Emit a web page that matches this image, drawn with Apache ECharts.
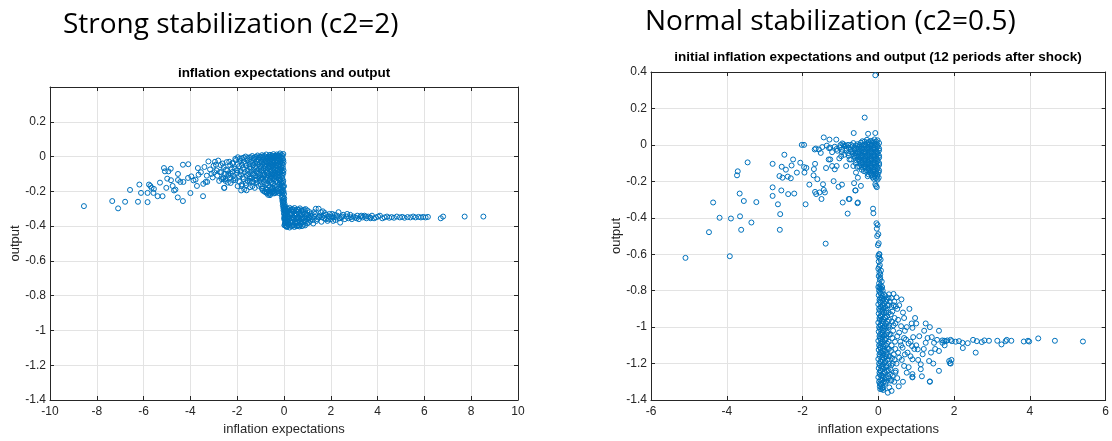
<!DOCTYPE html>
<html>
<head>
<meta charset="utf-8">
<script src="https://cdn.jsdelivr.net/npm/echarts@6/dist/echarts.min.js"></script>
<style>
html,body{margin:0;padding:0;background:#fff;}
#chart{width:1112px;height:441px;}
</style>
</head>
<body>
<div id="chart"></div>
<script>
// ---------- Titles / labels ----------
const leftHeading = 'Strong stabilization (c2=2)';
const rightHeading = 'Normal stabilization (c2=0.5)';
const leftTitle = 'inflation expectations and output';
const rightTitle = 'initial inflation expectations and output (12 periods after shock)';
const xName = 'inflation expectations';
const yName = 'output';

// ---------- Strong stabilization (c2=2) data: [inflation expectations, output] ----------
const strongSparse = [
[-8.55,-0.285],[-7.34,-0.256],[-7.09,-0.298],[-6.79,-0.26],[-6.58,-0.192],[-6.24,-0.26],[-6.18,-0.161],[-6.11,-0.209],
[-5.83,-0.262],[-5.83,-0.209],[-5.77,-0.161],[-5.71,-0.169],[-5.66,-0.18],[-5.58,-0.209],[-5.56,-0.186],[-5.40,-0.228],
[-5.30,-0.15],[-5.19,-0.228],[-5.13,-0.066],[-5.09,-0.085],[-5.03,-0.18],[-4.99,-0.127],[-4.94,-0.085],[-4.84,-0.07],
[-4.83,-0.136],[-4.76,-0.169],[-4.70,-0.195],[-4.64,-0.19],[-4.54,-0.235],[-4.53,-0.1],[-4.53,-0.135],[-4.43,-0.146],
[-4.32,-0.256],[-4.32,-0.047],[-4.09,-0.044],[-4.30,-0.146],[-4.10,-0.123],[-4.00,-0.21],[-3.96,-0.114],[-3.87,-0.137],
[-3.78,-0.133],[-3.72,-0.169],[-3.68,-0.066],[-3.65,-0.104],[-3.46,-0.228],[-3.45,-0.157],[-3.35,-0.146],[-3.28,-0.146],
[-3.23,-0.028],[-3.16,-0.074],[-3.01,-0.053],[-2.91,-0.047],[-3.55,-0.09],[-3.4,-0.06],[-3.3,-0.11],[-3.1,-0.1],
[-2.81,-0.023],[-2.74,-0.089],[-2.59,-0.127],[-2.56,-0.18],[-2.45,-0.032],[-2.38,-0.108],[-2.24,-0.07],[-2.17,-0.137],
[-2.08,-0.013],[-1.99,-0.08],[-1.81,-0.169],[-1.7,-0.188],[-1.6,-0.194],[-1.45,-0.127],[-1.37,-0.146],[-1.03,-0.127],
[-0.94,-0.184],[-0.74,-0.203],[-0.6,-0.222],[-0.47,-0.18],[-0.43,-0.212],[-2.95,-0.03],[-2.88,-0.08],[-2.7,-0.05],
[-2.66,-0.13],[-2.62,-0.04],[-2.52,-0.1],[-2.4,-0.15],[-2.3,-0.12],[-2.2,-0.04],
[-3.05,-0.12],[-2.98,-0.09],[-2.85,-0.11],[-2.77,-0.14],[-2.68,-0.09],[-2.58,-0.06],[-2.5,-0.13],[-2.42,-0.08],[-2.34,-0.03],[-2.27,-0.1]
];
const strongCloud = [
[-0.03,0.015],[-0.1,0.01],[-0.17,0.018],[-0.24,0.008],[-0.31,0.012],[-0.38,0.004],[-0.45,0.014],[-0.52,0.006],[-0.6,0.01],[-0.68,0.0],[-0.76,0.012],[-0.85,0.004],[-0.94,0.008],[-1.03,-0.002],[-1.13,0.006],[-1.24,-0.004],[-1.36,0.003],[-1.5,-0.006],[-1.64,0.0],[-1.8,-0.01],[-1.97,-0.004],
[-0.06,-0.01],[-0.14,-0.006],[-0.21,-0.014],[-0.28,-0.008],[-0.35,-0.018],[-0.42,-0.01],[-0.49,-0.02],[-0.56,-0.012],[-0.64,-0.02],[-0.72,-0.014],[-0.8,-0.024],[-0.89,-0.016],[-0.98,-0.026],[-1.08,-0.018],[-1.18,-0.028],[-1.29,-0.02],[-1.41,-0.03],[-1.56,-0.022],[-1.72,-0.032],[-1.88,-0.026],[-2.05,-0.02],[-2.2,-0.036],
[-0.02,-0.035],[-0.09,-0.04],[-0.16,-0.032],[-0.23,-0.044],[-0.3,-0.036],[-0.37,-0.048],[-0.44,-0.038],[-0.51,-0.05],[-0.58,-0.042],[-0.66,-0.054],[-0.74,-0.044],[-0.83,-0.056],[-0.92,-0.046],[-1.02,-0.058],[-1.12,-0.048],[-1.23,-0.06],[-1.35,-0.05],[-1.47,-0.062],[-1.61,-0.052],[-1.76,-0.066],[-1.92,-0.056],[-2.1,-0.07],[-2.3,-0.05],[-2.48,-0.075],
[-0.05,-0.065],[-0.12,-0.072],[-0.19,-0.062],[-0.26,-0.076],[-0.33,-0.066],[-0.4,-0.08],[-0.47,-0.07],[-0.54,-0.084],[-0.62,-0.074],[-0.7,-0.088],[-0.78,-0.078],[-0.87,-0.092],[-0.96,-0.08],[-1.06,-0.094],[-1.17,-0.084],[-1.28,-0.098],[-1.4,-0.086],[-1.53,-0.1],[-1.67,-0.09],[-1.84,-0.104],[-2.0,-0.094],[-2.18,-0.11],[-2.38,-0.1],[-2.6,-0.12],
[-0.03,-0.095],[-0.1,-0.1],[-0.17,-0.092],[-0.24,-0.106],[-0.31,-0.098],[-0.39,-0.112],[-0.47,-0.104],[-0.56,-0.118],[-0.65,-0.108],[-0.75,-0.122],[-0.85,-0.112],[-0.97,-0.128],[-1.1,-0.118],[-1.24,-0.134],[-1.38,-0.122],[-1.55,-0.14],[-1.72,-0.13],[-1.9,-0.146],[-2.08,-0.136],[-2.28,-0.152],[-2.5,-0.14],
[-0.07,-0.125],[-0.15,-0.132],[-0.23,-0.124],[-0.32,-0.138],[-0.42,-0.13],[-0.52,-0.146],[-0.62,-0.138],[-0.73,-0.154],[-0.86,-0.146],[-1.0,-0.162],[-1.16,-0.15],[-1.35,-0.17],[-1.62,-0.165],[-1.83,-0.195],[-2.55,-0.18],
[-0.11,-0.155],[-0.2,-0.162],[-0.3,-0.172],[-0.4,-0.168],[-0.5,-0.182],[-0.6,-0.176],[-0.71,-0.19],[-0.83,-0.2],[-0.93,-0.185],
[-0.16,-0.19],[-0.27,-0.2],[-0.38,-0.21],[-0.48,-0.205],[-0.58,-0.215],[-0.68,-0.22],[-0.8,-0.205]
];
const strongCloudFill = [
[-0.065,0.003],[-0.135,-0.001],[-0.205,0.004],[-0.275,0.0],[-0.345,0.003],[-0.415,-0.002],[-0.485,0.002],[-0.56,-0.003],[-0.64,0.001],[-0.72,-0.004],[-0.8,0.0],[-0.9,-0.005],[-0.99,-0.001],[-1.08,-0.006],[-1.19,-0.002],[-1.3,-0.008],[-1.43,-0.004],[-1.57,-0.01],[-1.72,-0.006],[-1.88,-0.012],
[-0.03,-0.022],[-0.1,-0.026],[-0.17,-0.02],[-0.245,-0.025],[-0.315,-0.021],[-0.385,-0.027],[-0.455,-0.023],[-0.53,-0.03],[-0.6,-0.026],[-0.68,-0.032],[-0.76,-0.028],[-0.85,-0.034],[-0.94,-0.03],[-1.03,-0.036],[-1.13,-0.032],[-1.24,-0.04],[-1.35,-0.036],[-1.48,-0.044],[-1.64,-0.04],[-1.8,-0.048],[-1.97,-0.042],
[-0.055,-0.05],[-0.125,-0.054],[-0.195,-0.048],[-0.265,-0.055],[-0.335,-0.051],[-0.405,-0.058],[-0.475,-0.054],[-0.545,-0.062],[-0.62,-0.058],[-0.7,-0.066],[-0.78,-0.06],[-0.87,-0.068],[-0.96,-0.063],[-1.07,-0.072],[-1.18,-0.066],[-1.3,-0.076],[-1.42,-0.07],[-1.55,-0.08],[-1.7,-0.074],[-1.85,-0.084],[-2.02,-0.078],[-2.2,-0.088],
[-0.02,-0.08],[-0.09,-0.085],[-0.16,-0.079],[-0.23,-0.088],[-0.3,-0.082],[-0.37,-0.092],[-0.44,-0.086],[-0.51,-0.096],[-0.58,-0.09],[-0.66,-0.1],[-0.74,-0.094],[-0.83,-0.104],[-0.92,-0.098],[-1.01,-0.108],[-1.12,-0.1],[-1.23,-0.112],[-1.35,-0.104],[-1.47,-0.116],[-1.6,-0.108],[-1.76,-0.12],[-1.92,-0.112],[-2.1,-0.125],
[-0.065,-0.11],[-0.135,-0.114],[-0.205,-0.108],[-0.28,-0.118],[-0.35,-0.112],[-0.43,-0.122],[-0.51,-0.116],[-0.6,-0.128],[-0.7,-0.122],[-0.8,-0.134],[-0.91,-0.128],[-1.03,-0.14],[-1.17,-0.134],[-1.31,-0.146],[-1.46,-0.14],[-1.63,-0.152],[-1.8,-0.16],[-1.98,-0.17],
[-0.03,-0.14],[-0.11,-0.145],[-0.19,-0.14],[-0.27,-0.15],[-0.37,-0.146],[-0.47,-0.158],[-0.57,-0.152],[-0.68,-0.165],[-0.8,-0.16],[-0.93,-0.172],[-1.08,-0.168],[-1.25,-0.18],[-1.45,-0.176],
[-0.06,-0.17],[-0.15,-0.176],[-0.25,-0.185],[-0.35,-0.19],[-0.45,-0.195],[-0.55,-0.19],[-0.65,-0.2],[-0.77,-0.19],[-0.9,-0.196],
[-0.05,-0.2],[-0.12,-0.205],[-0.22,-0.21],[-0.33,-0.205],[-0.43,-0.2],[-0.53,-0.208],[-0.63,-0.212],[-0.74,-0.21]
];
const strongWall = [
[-0.05,-0.15],[0.0,-0.17],[-0.08,-0.19],[-0.02,-0.2],[-0.1,-0.22],[-0.04,-0.23],[0.01,-0.24],[-0.07,-0.25],[-0.02,-0.265],
[0.03,-0.275],[-0.05,-0.28],[0.0,-0.29],[0.05,-0.3],[-0.02,-0.31],[0.02,-0.325],[0.06,-0.34],[0.03,-0.355],[0.07,-0.37],
[0.04,-0.385],[0.08,-0.4],[0.12,-0.405],
[-0.09,-0.16],[-0.03,-0.175],[-0.11,-0.2],[-0.06,-0.21],[0.0,-0.215],[-0.09,-0.235],[-0.03,-0.245],[-0.06,-0.26],[0.0,-0.255],
[-0.04,-0.27],[0.02,-0.285],[-0.03,-0.295],[0.03,-0.31],[0.0,-0.33],[0.04,-0.345],[0.01,-0.36],[0.05,-0.38],[0.02,-0.395]
];
const strongLow = [
[0.05,-0.29],[0.14,-0.3],[0.24,-0.295],[0.34,-0.302],[0.45,-0.296],[0.56,-0.305],[0.68,-0.298],[0.8,-0.31],[0.92,-0.302],
[0.03,-0.315],[0.11,-0.322],[0.2,-0.312],[0.3,-0.326],[0.4,-0.316],[0.5,-0.33],[0.61,-0.318],[0.72,-0.332],[0.84,-0.32],[0.97,-0.335],
[0.07,-0.338],[0.16,-0.345],[0.26,-0.336],[0.36,-0.35],[0.46,-0.34],[0.57,-0.354],[0.68,-0.344],[0.79,-0.358],[0.9,-0.348],[1.02,-0.36],
[0.04,-0.36],[0.13,-0.368],[0.22,-0.358],[0.32,-0.372],[0.42,-0.362],[0.53,-0.376],[0.64,-0.366],[0.75,-0.38],[0.87,-0.37],[0.99,-0.384],
[0.09,-0.382],[0.18,-0.39],[0.28,-0.38],[0.38,-0.394],[0.49,-0.385],[0.6,-0.396],[0.71,-0.388],[0.83,-0.392],
[0.14,-0.402],[0.24,-0.408],[0.34,-0.4],[0.44,-0.405],[0.55,-0.4],[0.66,-0.402]
];
const strongLowFill = [
[0.0,-0.305],[0.09,-0.307],[0.19,-0.303],[0.29,-0.308],[0.39,-0.304],[0.5,-0.309],[0.62,-0.305],[0.74,-0.31],[0.86,-0.306],
[0.06,-0.328],[0.15,-0.332],[0.25,-0.326],[0.35,-0.33],[0.45,-0.327],[0.55,-0.333],[0.66,-0.328],[0.78,-0.334],[0.9,-0.33],[1.04,-0.336],
[0.01,-0.35],[0.1,-0.354],[0.2,-0.348],[0.31,-0.355],[0.41,-0.35],[0.51,-0.356],[0.62,-0.351],[0.73,-0.357],[0.85,-0.352],[0.96,-0.358],[1.1,-0.353],
[0.07,-0.372],[0.17,-0.376],[0.27,-0.37],[0.37,-0.377],[0.47,-0.372],[0.58,-0.378],[0.69,-0.373],[0.81,-0.379],[0.93,-0.374],[1.06,-0.38],
[0.03,-0.395],[0.12,-0.398],[0.22,-0.394],[0.32,-0.399],[0.43,-0.395],[0.54,-0.4],[0.65,-0.396],[0.77,-0.4],[0.9,-0.396]
];
const strongTail = [
[1.0,-0.31],[1.05,-0.35],[1.12,-0.37],[1.18,-0.33],[1.25,-0.385],[1.3,-0.345],[1.36,-0.30],[1.42,-0.36],[1.48,-0.30],[1.55,-0.34],
[1.6,-0.375],[1.66,-0.315],[1.72,-0.355],[1.8,-0.335],[1.86,-0.37],[1.92,-0.345],[2.0,-0.36],[2.06,-0.33],[2.12,-0.35],[2.2,-0.365],
[2.27,-0.34],[2.33,-0.32],[2.4,-0.38],[2.46,-0.35],[2.53,-0.335],[2.6,-0.36],[2.68,-0.345],[2.75,-0.355],[2.83,-0.335],[2.9,-0.36],
[2.97,-0.345],[3.05,-0.35],[3.13,-0.34],[3.2,-0.36],[3.28,-0.345],[3.36,-0.35],[3.44,-0.34],[3.52,-0.355],[3.6,-0.345],[3.68,-0.35],
[3.76,-0.34],[3.85,-0.355],[3.93,-0.35],[4.02,-0.345],[4.1,-0.34],[4.2,-0.355],[4.3,-0.35],[4.4,-0.345],[4.5,-0.352],[4.6,-0.348],
[4.7,-0.352],[4.82,-0.345],[4.95,-0.35],[5.05,-0.347],[5.15,-0.352],[5.28,-0.348],[5.4,-0.35],[5.52,-0.345],[5.62,-0.35],[5.75,-0.347],
[5.85,-0.35],[5.95,-0.347],[6.05,-0.35],[6.15,-0.347],[6.7,-0.355],[6.8,-0.345],[7.72,-0.345],[8.52,-0.345],
[1.1,-0.32],[1.2,-0.35],[1.28,-0.32],[1.38,-0.37],[1.5,-0.345],[1.58,-0.32],[1.7,-0.34],[1.78,-0.36],[1.95,-0.33],[2.1,-0.37],
[2.25,-0.35],[2.5,-0.345],[2.7,-0.33],[2.85,-0.35],[3.1,-0.355],[3.3,-0.34],[3.5,-0.345],[3.7,-0.355],
[1.15,-0.34],[1.22,-0.365],[1.33,-0.33],[1.45,-0.35],[1.63,-0.35],[1.75,-0.325],[1.9,-0.36],[2.03,-0.345],[2.17,-0.335],[2.37,-0.355]
];

// ---------- Normal stabilization (c2=0.5) data ----------
const normalSparse = [
[-5.09,-0.62],[-4.47,-0.479],[-4.36,-0.316],[-4.19,-0.40],[-3.92,-0.611],[-3.89,-0.404],[-3.73,-0.167],[-3.71,-0.145],
[-3.66,-0.267],[-3.65,-0.392],[-3.62,-0.466],[-3.55,-0.308],[-3.45,-0.096],[-3.35,-0.426],[-3.22,-0.314],[-2.79,-0.104],
[-2.79,-0.233],[-2.79,-0.28],[-2.65,-0.326],[-2.61,-0.171],[-2.60,-0.466],[-2.59,-0.38],[-2.56,-0.25],[-2.55,-0.12],
[-2.53,-0.18],[-2.48,-0.054],[-2.44,-0.136],[-2.39,-0.174],[-2.38,-0.27],[-2.31,-0.183],[-2.29,-0.113],[-2.25,-0.08],
[-2.22,-0.267],[-2.15,-0.152],[-2.06,-0.098],[-2.02,0.0],[-1.96,0.0],[-1.96,-0.122],[-1.95,-0.152],[-1.92,-0.326],
[-1.90,-0.126],[-1.82,-0.218],[-1.71,-0.167],[-1.70,-0.133],[-1.68,-0.025],[-1.67,-0.104],[-1.67,-0.258],[-1.64,-0.27],
[-1.61,-0.188],[-1.57,-0.025],[-1.55,-0.261],[-1.52,-0.044],[-1.50,-0.297],[-1.46,-0.216],[-1.44,-0.247],[-1.44,0.041],
[-1.41,-0.261],[-1.39,-0.542],[-1.38,-0.127],[-1.36,-0.004],[-1.31,-0.08],[-1.29,0.029],[-1.27,-0.015],[-1.27,-0.08],
[-1.22,-0.116],[-1.18,-0.199],[-1.15,-0.134],[-1.11,0.029],[-1.10,-0.116],[-1.05,-0.23],[-1.03,-0.074],[-0.98,-0.062],
[-0.96,-0.218],[-0.94,-0.316],[-0.92,0.003],[-0.85,-0.116],[-0.81,-0.377],[-0.78,-0.297],[-0.76,-0.08],[-0.66,-0.116],
[-0.65,0.065],[-0.64,-0.21],[-0.61,-0.25],[-0.59,-0.152],[-0.55,-0.32],[-0.54,-0.18],[-0.46,-0.225],[-0.36,0.15],
[-0.27,0.061],[-0.08,0.065],[-0.08,0.382],[-0.14,-0.35],[-0.13,-0.375],[-0.08,-0.216],[-0.04,-0.232],[-0.06,-0.225],
[-0.6,-0.25],[-0.54,-0.316],[-0.76,-0.297]
];
const normalCloud = [
[-0.02,0.025],[-0.1,0.03],[-0.2,0.022],[-0.3,0.028],[-0.42,0.02],
[0.02,0.01],[-0.06,0.006],[-0.14,0.012],[-0.22,0.004],[-0.3,0.01],[-0.38,0.002],[-0.46,0.012],[-0.55,0.004],[-0.66,0.01],[-0.8,0.0],[-0.95,0.008],
[-0.02,-0.01],[-0.1,-0.014],[-0.18,-0.006],[-0.26,-0.012],[-0.34,-0.008],[-0.42,-0.016],[-0.5,-0.01],[-0.58,-0.018],[-0.68,-0.008],[-0.78,-0.016],[-0.9,-0.006],[-1.02,-0.014],[-1.15,-0.01],[-1.3,-0.018],[-1.48,-0.012],[-1.65,-0.02],
[0.02,-0.03],[-0.06,-0.034],[-0.14,-0.026],[-0.22,-0.032],[-0.3,-0.028],[-0.38,-0.036],[-0.46,-0.03],[-0.54,-0.038],[-0.63,-0.028],[-0.72,-0.036],[-0.84,-0.03],[-0.96,-0.04],[-1.08,-0.032],[-1.22,-0.04],
[-0.02,-0.05],[-0.1,-0.054],[-0.18,-0.046],[-0.26,-0.052],[-0.34,-0.048],[-0.42,-0.056],[-0.5,-0.05],[-0.58,-0.058],[-0.67,-0.05],[-0.78,-0.06],[-0.9,-0.054],
[0.02,-0.07],[-0.06,-0.074],[-0.14,-0.066],[-0.22,-0.072],[-0.3,-0.068],[-0.38,-0.076],[-0.46,-0.07],[-0.54,-0.078],[-0.62,-0.07],[-0.72,-0.08],
[-0.02,-0.09],[-0.1,-0.094],[-0.18,-0.086],[-0.26,-0.092],[-0.34,-0.088],[-0.42,-0.096],[-0.5,-0.09],[-0.6,-0.1],
[0.02,-0.11],[-0.06,-0.114],[-0.14,-0.106],[-0.22,-0.112],[-0.3,-0.108],[-0.38,-0.116],[-0.46,-0.11],[-0.56,-0.12],
[-0.02,-0.13],[-0.1,-0.134],[-0.18,-0.126],[-0.26,-0.132],[-0.34,-0.128],[-0.44,-0.136],
[0.01,-0.15],[-0.06,-0.154],[-0.14,-0.146],[-0.22,-0.152],[-0.32,-0.148],
[-0.03,-0.17],[-0.1,-0.174],[-0.18,-0.166],[-0.28,-0.172],
[-0.02,-0.19],[-0.12,-0.186]
];
const normalCloudFill = [
[-0.06,0.018],[-0.15,0.02],[-0.25,0.016],[-0.36,0.018],
[-0.02,0.0],[-0.1,-0.002],[-0.18,0.002],[-0.26,-0.001],[-0.34,0.001],[-0.42,-0.002],[-0.5,0.0],[-0.6,-0.003],[-0.72,0.0],[-0.86,-0.004],[-1.0,-0.001],
[0.02,-0.02],[-0.06,-0.022],[-0.14,-0.018],[-0.22,-0.021],[-0.3,-0.019],[-0.38,-0.023],[-0.46,-0.02],[-0.54,-0.024],[-0.63,-0.02],[-0.73,-0.025],[-0.84,-0.02],[-0.96,-0.026],[-1.1,-0.022],
[-0.02,-0.04],[-0.1,-0.043],[-0.18,-0.038],[-0.26,-0.042],[-0.34,-0.039],[-0.42,-0.044],[-0.5,-0.04],[-0.59,-0.045],[-0.68,-0.04],[-0.8,-0.046],
[0.02,-0.06],[-0.06,-0.062],[-0.14,-0.058],[-0.22,-0.062],[-0.3,-0.059],[-0.38,-0.064],[-0.46,-0.06],[-0.54,-0.065],[-0.63,-0.06],
[-0.02,-0.08],[-0.1,-0.083],[-0.18,-0.078],[-0.26,-0.082],[-0.34,-0.079],[-0.42,-0.084],[-0.5,-0.08],[-0.58,-0.085],
[0.02,-0.1],[-0.06,-0.103],[-0.14,-0.098],[-0.22,-0.102],[-0.3,-0.099],[-0.38,-0.104],[-0.46,-0.1],
[-0.02,-0.12],[-0.1,-0.123],[-0.18,-0.118],[-0.26,-0.122],[-0.34,-0.119],[-0.42,-0.124],[-0.5,-0.12],
[0.02,-0.14],[-0.06,-0.143],[-0.14,-0.138],[-0.22,-0.142],[-0.3,-0.139],[-0.38,-0.144],
[-0.02,-0.16],[-0.1,-0.163],[-0.18,-0.158],[-0.26,-0.162],
[0.01,-0.18],[-0.06,-0.182],[-0.15,-0.178]
];
const normalStreak = [
[-0.05,-0.43],[-0.02,-0.44],[-0.04,-0.46],[0.0,-0.49],[-0.03,-0.5],[0.01,-0.54],[-0.01,-0.55],[0.02,-0.6],[0.0,-0.61],[0.03,-0.62],
[0.01,-0.64],[0.04,-0.66],[0.0,-0.68],[0.03,-0.7],[0.05,-0.71],[0.01,-0.72],[0.04,-0.74],[0.02,-0.76],[0.06,-0.77],[0.0,-0.78],
[0.03,-0.6],[0.06,-0.63],[0.02,-0.67],[0.07,-0.69],[0.05,-0.73],[0.09,-0.75],[0.03,-0.78],[0.1,-0.78]
];
const normalLow = [
[0.02,-0.8],[0.01,-0.825],[0.03,-0.85],[0.0,-0.875],[0.02,-0.9],[0.01,-0.925],[0.03,-0.95],[0.0,-0.975],[0.02,-1.0],[0.01,-1.025],[0.03,-1.05],[0.0,-1.075],[0.02,-1.1],[0.01,-1.125],[0.03,-1.15],[0.0,-1.175],[0.02,-1.2],[0.01,-1.225],[0.03,-1.25],[0.0,-1.275],[0.02,-1.3],[0.04,-1.325],
[0.08,-0.79],[0.07,-0.815],[0.09,-0.84],[0.06,-0.865],[0.08,-0.89],[0.1,-0.915],[0.07,-0.94],[0.09,-0.965],[0.06,-0.99],[0.08,-1.015],[0.1,-1.04],[0.07,-1.065],[0.09,-1.09],[0.06,-1.115],[0.08,-1.14],[0.1,-1.165],[0.07,-1.19],[0.09,-1.215],[0.06,-1.24],[0.08,-1.265],[0.1,-1.29],[0.07,-1.315],[0.09,-1.34],
[0.15,-0.82],[0.14,-0.845],[0.16,-0.87],[0.13,-0.895],[0.15,-0.92],[0.17,-0.945],[0.14,-0.97],[0.16,-0.995],[0.13,-1.02],[0.15,-1.045],[0.17,-1.07],[0.14,-1.095],[0.16,-1.12],[0.13,-1.145],[0.15,-1.17],[0.17,-1.195],[0.14,-1.22],[0.16,-1.245],[0.13,-1.27],[0.15,-1.3],[0.12,-1.33],
[0.22,-0.85],[0.24,-0.88],[0.21,-0.91],[0.23,-0.94],[0.25,-0.97],[0.22,-1.0],[0.24,-1.03],[0.21,-1.06],[0.23,-1.09],[0.25,-1.12],[0.22,-1.15],[0.24,-1.18],[0.21,-1.21],[0.23,-1.24],[0.26,-1.27],[0.2,-1.3],
[0.3,-0.86],[0.33,-0.93],[0.29,-0.99],[0.32,-1.04],[0.35,-1.1],[0.3,-1.16],[0.34,-1.21],[0.31,-1.26],[0.28,-0.82],[0.36,-0.97]
];
const normalLowFill = [
[0.045,-0.79],[0.04,-0.81],[0.05,-0.84],[0.04,-0.86],[0.05,-0.89],[0.04,-0.91],[0.05,-0.94],[0.04,-0.96],[0.05,-0.99],[0.04,-1.01],[0.05,-1.04],[0.04,-1.06],[0.05,-1.09],[0.04,-1.11],[0.05,-1.14],[0.04,-1.16],[0.05,-1.19],[0.04,-1.21],[0.05,-1.24],[0.04,-1.26],[0.05,-1.29],[0.04,-1.31],[0.05,-1.34],
[0.115,-0.8],[0.11,-0.83],[0.12,-0.855],[0.11,-0.88],[0.12,-0.905],[0.11,-0.93],[0.12,-0.955],[0.11,-0.98],[0.12,-1.005],[0.11,-1.03],[0.12,-1.055],[0.11,-1.08],[0.12,-1.105],[0.11,-1.13],[0.12,-1.155],[0.11,-1.18],[0.12,-1.205],[0.11,-1.23],[0.12,-1.255],[0.11,-1.28],[0.12,-1.305],[0.11,-1.335],
[0.19,-0.83],[0.2,-0.86],[0.18,-0.89],[0.2,-0.92],[0.19,-0.95],[0.2,-0.98],[0.18,-1.01],[0.2,-1.04],[0.19,-1.07],[0.2,-1.1],[0.18,-1.13],[0.2,-1.16],[0.19,-1.19],[0.2,-1.22],[0.18,-1.25],[0.2,-1.28],[0.19,-1.31],
[0.27,-0.84],[0.28,-0.88],[0.27,-0.92],[0.28,-0.96],[0.27,-1.0],[0.28,-1.04],[0.27,-1.08],[0.28,-1.12],[0.27,-1.16],[0.28,-1.2],[0.27,-1.24],[0.28,-1.28],
[0.4,-0.88],[0.43,-0.95],[0.39,-1.02],[0.44,-1.08],[0.41,-1.15],[0.38,-1.2],[0.45,-1.25],[0.42,-1.3],[0.5,-0.9],[0.52,-1.14],[0.48,-1.2],
[0.34,-0.89],[0.37,-1.06],[0.33,-1.13],[0.36,-1.17],[0.32,-1.23],[0.35,-1.29],[0.4,-0.99],[0.43,-1.18]
];
const normalFan = [
[0.40,-0.818],[0.48,-0.837],[0.61,-0.848],[0.42,-0.859],[0.46,-0.886],[0.37,-0.914],[0.68,-0.95],[0.97,-0.95],[0.88,-0.98],
[1.25,-0.98],[1.36,-1.0],[0.6,-0.995],[0.9,-1.004],[1.60,-1.02],[1.21,-1.02],[1.08,-1.05],[0.92,-1.055],[1.41,-1.055],
[0.73,-1.068],[1.25,-1.086],[1.47,-1.086],[1.69,-1.086],[1.91,-1.07],[0.89,-1.104],[0.64,-1.113],[1.04,-1.122],[0.77,-1.14],
[1.17,-1.149],[1.39,-1.14],[1.6,-1.131],[0.55,-1.168],[0.9,-1.177],[1.12,-1.204],[1.34,-1.186],[1.93,-1.18],[1.89,-1.198],
[0.68,-1.213],[0.46,-1.24],[0.9,-1.258],[1.12,-1.231],[1.36,-1.298],[0.90,-1.276],[0.54,-1.325],[0.33,-1.294],[0.38,-1.267],
[0.13,-1.345],[0.08,-1.312],[0.29,-1.331],[0.5,-1.05],[0.45,-1.12],[0.52,-0.96],[0.58,-1.08],[0.7,-1.02],[0.8,-1.09],
[0.62,-1.18],[0.75,-1.25],[1.0,-1.1],[1.5,-1.12],[1.3,-1.06],[1.75,-1.1],
[0.35,-0.84],[0.55,-0.88],[0.65,-0.92],[0.45,-0.98],[0.75,-1.0],[0.55,-1.03],[0.68,-1.06],[0.85,-1.08],[0.6,-1.1],[0.95,-1.12],
[0.7,-1.15],[0.85,-1.16],[0.5,-1.28],[0.65,-1.3],[0.8,-1.22],[1.05,-1.18],[1.2,-1.12],[1.15,-1.27],[0.35,-1.35],[0.25,-1.36],
[1.6,-1.24],[1.45,-1.2],[1.55,-1.07],[1.0,-0.98],[0.82,-0.9]
];
const normalTail = [
[4.22,-1.062],[4.66,-1.075],[5.40,-1.079],[3.98,-1.079],[3.95,-1.075],[3.84,-1.079],[3.51,-1.075],[3.39,-1.07],[3.36,-1.077],
[3.25,-1.095],[3.14,-1.075],[2.92,-1.075],[2.80,-1.073],[2.73,-1.082],[2.60,-1.077],[2.50,-1.07],[2.36,-1.088],[2.23,-1.115],
[2.22,-1.086],[2.13,-1.077],[2.04,-1.08],[1.94,-1.077],[1.82,-1.073],[1.78,-1.077],[1.74,-1.075],[1.69,-1.073],[1.91,-1.2],
[1.87,-1.186],[2.57,-1.14],[1.36,-1.3],[0.90,-1.273]
];

// ---------- Axis settings (tick labels) ----------
const strongX = {min: -10, max: 10, step: 2};
const strongY = {min: -1.4, max: 0.4, step: 0.2};
const normalX = {min: -6, max: 6, step: 2};
const normalY = {min: -1.4, max: 0.4, step: 0.2};

const chart = echarts.init(document.getElementById('chart'), null, {renderer: 'canvas'});
const TXT = '#262626';
const FONT = '"Liberation Sans Narrow","Liberation Sans",Arial,sans-serif';
const fmt = v => String(Math.round(v * 10) / 10);

function xAx(gi, s, pos, main) {
  return {
    gridIndex: gi, type: 'value', position: pos, min: s.min, max: s.max, interval: s.step,
    axisLine: {show: true, onZero: false, lineStyle: {color: TXT, width: 1}},
    axisTick: {show: true, inside: true, length: 4, lineStyle: {color: TXT}},
    axisLabel: {show: main, color: TXT, fontSize: 12, fontFamily: FONT, margin: 6, formatter: fmt},
    splitLine: {show: main, lineStyle: {color: '#e3e3e3', width: 1}},
    name: main ? xName : '', nameLocation: 'middle', nameGap: 23,
    nameTextStyle: {color: TXT, fontSize: 13, fontFamily: FONT}
  };
}
function yAx(gi, s, pos, main, showMax, gap) {
  return {
    gridIndex: gi, type: 'value', position: pos, min: s.min, max: s.max, interval: s.step,
    axisLine: {show: true, onZero: false, lineStyle: {color: TXT, width: 1}},
    axisTick: {show: true, inside: true, length: 4, lineStyle: {color: TXT}},
    axisLabel: {show: main, color: TXT, fontSize: 12, fontFamily: FONT, margin: 4, formatter: fmt, showMaxLabel: showMax},
    splitLine: {show: main, lineStyle: {color: '#e3e3e3', width: 1}},
    name: main ? yName : '', nameLocation: 'middle', nameGap: gap,
    nameTextStyle: {color: TXT, fontSize: 13, fontFamily: FONT}
  };
}
function sc(data, xi, yi) {
  return {
    type: 'scatter', xAxisIndex: xi, yAxisIndex: yi, data: data,
    symbol: 'circle', symbolSize: 5,
    itemStyle: {color: 'rgba(0,0,0,0)', borderColor: '#0072BD', borderWidth: 1, opacity: 1},
    emphasis: {disabled: true}, silent: true
  };
}

chart.setOption({
  animation: false,
  backgroundColor: '#fff',
  grid: [
    {left: 50, top: 87, width: 468, height: 316},
    {left: 651, top: 72, width: 456, height: 331}
  ],
  xAxis: [
    xAx(0, strongX, 'bottom', true),
    xAx(1, normalX, 'bottom', true),
    xAx(0, strongX, 'top', false),
    xAx(1, normalX, 'top', false)
  ],
  yAxis: [
    yAx(0, strongY, 'left', true, false, 24),
    yAx(1, normalY, 'left', true, true, 27),
    yAx(0, strongY, 'right', false, false, 0),
    yAx(1, normalY, 'right', false, false, 0)
  ],
  graphic: [
    {type: 'text', x: 63, y: 25, style: {text: leftHeading, fill: '#000', font: '28px "Open Sans", "Noto Sans", sans-serif', textAlign: 'left', textVerticalAlign: 'middle', align: 'left', verticalAlign: 'middle'}},
    {type: 'text', x: 645, y: 22, style: {text: rightHeading, fill: '#000', font: '28px "Open Sans", "Noto Sans", sans-serif', textAlign: 'left', textVerticalAlign: 'middle', align: 'left', verticalAlign: 'middle'}},
    {type: 'text', x: 284, y: 73, style: {text: leftTitle, fill: '#000', font: 'bold 13.5px ' + FONT, textAlign: 'center', textVerticalAlign: 'middle', align: 'center', verticalAlign: 'middle'}},
    {type: 'text', x: 878, y: 57, style: {text: rightTitle, fill: '#000', font: 'bold 13.5px ' + FONT, textAlign: 'center', textVerticalAlign: 'middle', align: 'center', verticalAlign: 'middle'}}
  ],
  series: [
    sc(strongSparse, 0, 0), sc(strongCloud, 0, 0), sc(strongCloudFill, 0, 0), sc(strongWall, 0, 0), sc(strongLow, 0, 0), sc(strongLowFill, 0, 0), sc(strongTail, 0, 0),
    sc(normalSparse, 1, 1), sc(normalCloud, 1, 1), sc(normalCloudFill, 1, 1), sc(normalStreak, 1, 1), sc(normalLow, 1, 1), sc(normalLowFill, 1, 1), sc(normalFan, 1, 1), sc(normalTail, 1, 1)
  ]
});
</script>
</body>
</html>
